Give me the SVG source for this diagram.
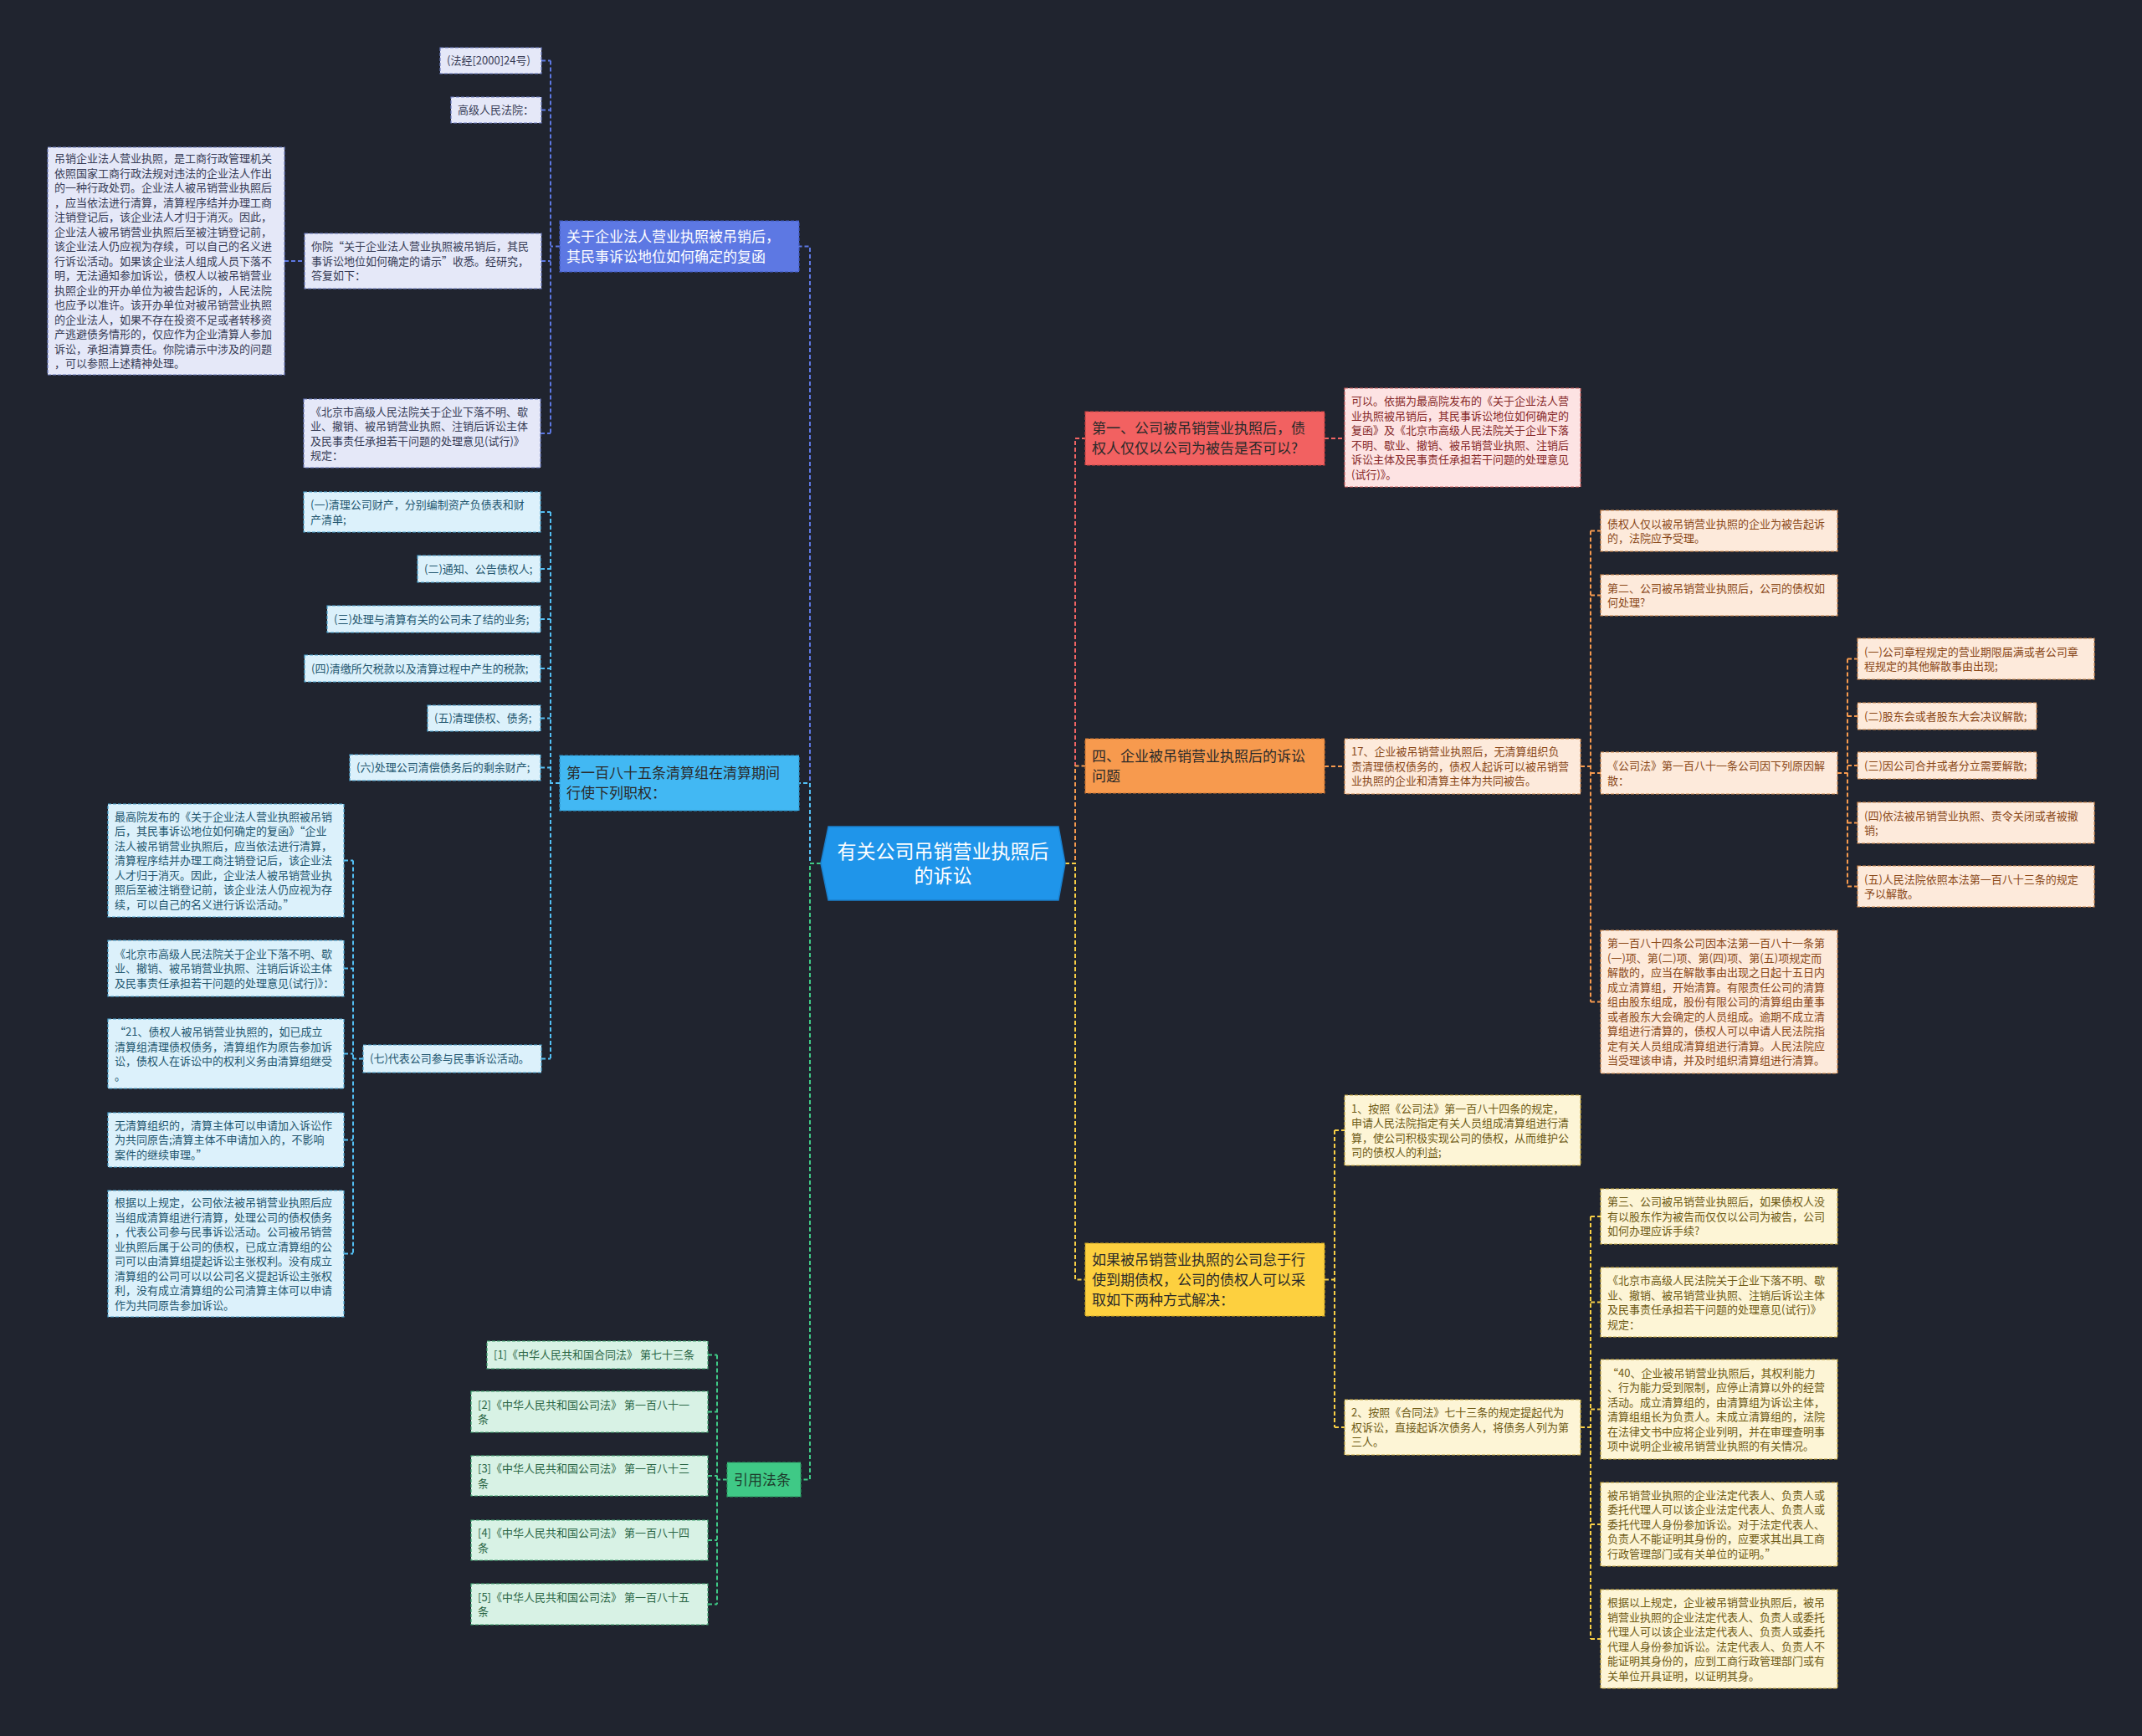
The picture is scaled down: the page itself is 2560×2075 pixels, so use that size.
<svg xmlns="http://www.w3.org/2000/svg" width="2560" height="2075" viewBox="0 0 2560 2075">
<style>
text{font-family:"Noto Sans CJK SC","Noto Sans",sans-serif}
.s{font-size:13px}
.l{font-size:17px}
.ctr{font-size:23px;fill:#ffffff}
.cn{fill:none;stroke-width:2;stroke-dasharray:5 3}
.nb{stroke-width:1.2;stroke-dasharray:4 2}
.bl{stroke:#5d78e3}.cy{stroke:#53bff4}.gr{stroke:#3fc986}.rd{stroke:#f26464}.or{stroke:#f79a4e}.ye{stroke:#f8cf45}
.bk{fill:#e5e8f8;stroke:#6d7cc4}.bt{fill:#363b55}
.ck{fill:#dcf1fb;stroke:#4aa6d3}.ct{fill:#22566f}
.gk{fill:#d8f2e5;stroke:#3fa571}.gt{fill:#2b6646}
.rk{fill:#fde3e3;stroke:#d06060}.rt{fill:#862828}
.ok{fill:#fdeadb;stroke:#d2884b}.ot{fill:#8a4818}
.yk{fill:#fdf5d6;stroke:#c8a83a}.yt{fill:#6e5a14}
.dk{fill:#2a2a2a}
</style>
<rect width="2560" height="2075" fill="#20242f"/>
<g id="connectors">
<path class="cn bl" d="M981,1032 H968 V294.5 H955"/>
<path class="cn cy" d="M981,1032 H968 V936 H955"/>
<path class="cn gr" d="M981,1032 H968 V1768.5 H957"/>
<path class="cn rd" d="M1273,1032 H1285 V524 H1297"/>
<path class="cn or" d="M1273,1032 H1285 V915.5 H1297"/>
<path class="cn ye" d="M1273,1032 H1285 V1529.5 H1297"/>
<path class="cn bl" d="M669,294.5 H658 M658,72.5 V518 M647,72.5 H658 M647,131.5 H658 M647,312 H658 M646,518 H658 M340,312 H364"/>
<path class="cn cy" d="M669,936 H658 M658,612 V1265.5 M646,612 H658 M646,680 H658 M646,740 H658 M646,799 H658 M646,858.5 H658 M646,917.5 H658 M647,1265.5 H658 M434,1265.5 H422 M422,1028.5 V1498.5 M411,1028.5 H422 M411,1157.5 H422 M411,1259.5 H422 M411,1362.5 H422 M411,1498.5 H422"/>
<path class="cn gr" d="M869,1768.5 H857 M857,1619.5 V1917.5 M846,1619.5 H857 M846,1687.5 H857 M846,1764 H857 M846,1841 H857 M846,1917.5 H857"/>
<path class="cn rd" d="M1583,524 H1607"/>
<path class="cn or" d="M1583,916 H1607 M1889,916 H1901 M1901,634.5 V1197.5 M1901,634.5 H1913 M1901,711.5 H1913 M1901,924 H1913 M1901,1197.5 H1913 M2196,924 H2208 M2208,787.5 V1059.5 M2208,787.5 H2220 M2208,856 H2220 M2208,915 H2220 M2208,983.5 H2220 M2208,1059.5 H2220"/>
<path class="cn ye" d="M1583,1529.5 H1595 M1595,1351 V1706 M1595,1351 H1607 M1595,1706 H1607 M1889,1706 H1901 M1901,1454 V1959 M1901,1454 H1913 M1901,1556.5 H1913 M1901,1684.5 H1913 M1901,1822 H1913 M1901,1959 H1913"/>
</g>
<g id="center">
<polygon points="981,1032 990,988 1265,988 1273,1032 1265,1076 990,1076" fill="#1f95ea" stroke="#1a7fcc" stroke-width="1.5"/>
<text class="ctr" x="1127" text-anchor="middle"><tspan x="1127" y="1026">有关公司吊销营业执照后</tspan><tspan x="1127" y="1055">的诉讼</tspan></text>
</g>
<g id="n-b0">
<rect class="nb" x="669" y="264" width="286" height="61" fill="#5d78e3" stroke="#3f58c0"/>
<text class="l" fill="#ffffff"><tspan x="677" y="288.6">关于企业法人营业执照被吊销后，</tspan><tspan x="677" y="312.6">其民事诉讼地位如何确定的复函</tspan></text>
</g>
<g id="n-b1">
<rect class="nb bk" x="526" y="57" width="121" height="31"/>
<text class="s bt"><tspan x="534" y="77.2">(法经[2000]24号)</tspan></text>
</g>
<g id="n-b2">
<rect class="nb bk" x="539" y="116" width="108" height="31"/>
<text class="s bt"><tspan x="547" y="136.2">高级人民法院：</tspan></text>
</g>
<g id="n-b3">
<rect class="nb bk" x="364" y="279" width="283" height="66"/>
<text class="s bt"><tspan x="372" y="299.2">你院“关于企业法人营业执照被吊销后，其民</tspan><tspan x="372" dy="17.5">事诉讼地位如何确定的请示”收悉。经研究，</tspan><tspan x="372" dy="17.5">答复如下：</tspan></text>
</g>
<g id="n-b4">
<rect class="nb bk" x="57" y="176" width="283" height="272"/>
<text class="s bt"><tspan x="65" y="194.2">吊销企业法人营业执照，是工商行政管理机关</tspan><tspan x="65" dy="17.5">依照国家工商行政法规对违法的企业法人作出</tspan><tspan x="65" dy="17.5">的一种行政处罚。企业法人被吊销营业执照后</tspan><tspan x="65" dy="17.5">，应当依法进行清算，清算程序结并办理工商</tspan><tspan x="65" dy="17.5">注销登记后，该企业法人才归于消灭。因此，</tspan><tspan x="65" dy="17.5">企业法人被吊销营业执照后至被注销登记前，</tspan><tspan x="65" dy="17.5">该企业法人仍应视为存续，可以自己的名义进</tspan><tspan x="65" dy="17.5">行诉讼活动。如果该企业法人组成人员下落不</tspan><tspan x="65" dy="17.5">明，无法通知参加诉讼，债权人以被吊销营业</tspan><tspan x="65" dy="17.5">执照企业的开办单位为被告起诉的，人民法院</tspan><tspan x="65" dy="17.5">也应予以准许。该开办单位对被吊销营业执照</tspan><tspan x="65" dy="17.5">的企业法人，如果不存在投资不足或者转移资</tspan><tspan x="65" dy="17.5">产逃避债务情形的，仅应作为企业清算人参加</tspan><tspan x="65" dy="17.5">诉讼，承担清算责任。你院请示中涉及的问题</tspan><tspan x="65" dy="17.5">，可以参照上述精神处理。</tspan></text>
</g>
<g id="n-b5">
<rect class="nb bk" x="363" y="477" width="283" height="82"/>
<text class="s bt"><tspan x="371" y="496.5">《北京市高级人民法院关于企业下落不明、歇</tspan><tspan x="371" dy="17.5">业、撤销、被吊销营业执照、注销后诉讼主体</tspan><tspan x="371" dy="17.5">及民事责任承担若干问题的处理意见(试行)》</tspan><tspan x="371" dy="17.5">规定：</tspan></text>
</g>
<g id="n-c0">
<rect class="nb" x="669" y="903" width="286" height="66" fill="#42b8f3" stroke="#2a93cc"/>
<text class="l dk"><tspan x="677" y="930.1">第一百八十五条清算组在清算期间</tspan><tspan x="677" y="954.1">行使下列职权：</tspan></text>
</g>
<g id="n-c1">
<rect class="nb ck" x="363" y="588" width="283" height="48"/>
<text class="s ct"><tspan x="371" y="608">(一)清理公司财产，分别编制资产负债表和财</tspan><tspan x="371" dy="17.5">产清单;</tspan></text>
</g>
<g id="n-c2">
<rect class="nb ck" x="499" y="664" width="147" height="32"/>
<text class="s ct"><tspan x="507" y="684.7">(二)通知、公告债权人;</tspan></text>
</g>
<g id="n-c3">
<rect class="nb ck" x="391" y="724" width="255" height="32"/>
<text class="s ct"><tspan x="399" y="744.7">(三)处理与清算有关的公司未了结的业务;</tspan></text>
</g>
<g id="n-c4">
<rect class="nb ck" x="364" y="783" width="282" height="32"/>
<text class="s ct"><tspan x="372" y="803.7">(四)清缴所欠税款以及清算过程中产生的税款;</tspan></text>
</g>
<g id="n-c5">
<rect class="nb ck" x="511" y="843" width="135" height="31"/>
<text class="s ct"><tspan x="519" y="863.2">(五)清理债权、债务;</tspan></text>
</g>
<g id="n-c6">
<rect class="nb ck" x="418" y="902" width="228" height="31"/>
<text class="s ct"><tspan x="426" y="922.2">(六)处理公司清偿债务后的剩余财产;</tspan></text>
</g>
<g id="n-c7">
<rect class="nb ck" x="434" y="1249" width="213" height="33"/>
<text class="s ct"><tspan x="442" y="1270.2">(七)代表公司参与民事诉讼活动。</tspan></text>
</g>
<g id="n-c8">
<rect class="nb ck" x="129" y="961" width="282" height="135"/>
<text class="s ct"><tspan x="137" y="980.7">最高院发布的《关于企业法人营业执照被吊销</tspan><tspan x="137" dy="17.5">后，其民事诉讼地位如何确定的复函》“企业</tspan><tspan x="137" dy="17.5">法人被吊销营业执照后，应当依法进行清算，</tspan><tspan x="137" dy="17.5">清算程序结并办理工商注销登记后，该企业法</tspan><tspan x="137" dy="17.5">人才归于消灭。因此，企业法人被吊销营业执</tspan><tspan x="137" dy="17.5">照后至被注销登记前，该企业法人仍应视为存</tspan><tspan x="137" dy="17.5">续，可以自己的名义进行诉讼活动。”</tspan></text>
</g>
<g id="n-c9">
<rect class="nb ck" x="129" y="1124" width="282" height="67"/>
<text class="s ct"><tspan x="137" y="1144.7">《北京市高级人民法院关于企业下落不明、歇</tspan><tspan x="137" dy="17.5">业、撤销、被吊销营业执照、注销后诉讼主体</tspan><tspan x="137" dy="17.5">及民事责任承担若干问题的处理意见(试行)》：</tspan></text>
</g>
<g id="n-c10">
<rect class="nb ck" x="129" y="1218" width="282" height="83"/>
<text class="s ct"><tspan x="137" y="1238"> “21、债权人被吊销营业执照的，如已成立</tspan><tspan x="137" dy="17.5">清算组清理债权债务，清算组作为原告参加诉</tspan><tspan x="137" dy="17.5">讼，债权人在诉讼中的权利义务由清算组继受</tspan><tspan x="137" dy="17.5">。</tspan></text>
</g>
<g id="n-c11">
<rect class="nb ck" x="129" y="1330" width="282" height="65"/>
<text class="s ct"><tspan x="137" y="1349.7">无清算组织的，清算主体可以申请加入诉讼作</tspan><tspan x="137" dy="17.5">为共同原告;清算主体不申请加入的，不影响</tspan><tspan x="137" dy="17.5">案件的继续审理。”</tspan></text>
</g>
<g id="n-c12">
<rect class="nb ck" x="129" y="1423" width="282" height="151"/>
<text class="s ct"><tspan x="137" y="1442">根据以上规定，公司依法被吊销营业执照后应</tspan><tspan x="137" dy="17.5">当组成清算组进行清算，处理公司的债权债务</tspan><tspan x="137" dy="17.5">，代表公司参与民事诉讼活动。公司被吊销营</tspan><tspan x="137" dy="17.5">业执照后属于公司的债权，已成立清算组的公</tspan><tspan x="137" dy="17.5">司可以由清算组提起诉讼主张权利。没有成立</tspan><tspan x="137" dy="17.5">清算组的公司可以以公司名义提起诉讼主张权</tspan><tspan x="137" dy="17.5">利，没有成立清算组的公司清算主体可以申请</tspan><tspan x="137" dy="17.5">作为共同原告参加诉讼。</tspan></text>
</g>
<g id="n-g0">
<rect class="nb" x="869" y="1748" width="88" height="41" fill="#3fc986" stroke="#2a9a62"/>
<text class="l" fill="#1d3b2c"><tspan x="877" y="1774.6">引用法条</tspan></text>
</g>
<g id="n-g1">
<rect class="nb gk" x="582" y="1603" width="264" height="33"/>
<text class="s gt"><tspan x="590" y="1624.2">[1]《中华人民共和国合同法》 第七十三条</tspan></text>
</g>
<g id="n-g2">
<rect class="nb gk" x="563" y="1663" width="283" height="49"/>
<text class="s gt"><tspan x="571" y="1683.5">[2]《中华人民共和国公司法》 第一百八十一</tspan><tspan x="571" dy="17.5">条</tspan></text>
</g>
<g id="n-g3">
<rect class="nb gk" x="563" y="1740" width="283" height="48"/>
<text class="s gt"><tspan x="571" y="1760">[3]《中华人民共和国公司法》 第一百八十三</tspan><tspan x="571" dy="17.5">条</tspan></text>
</g>
<g id="n-g4">
<rect class="nb gk" x="563" y="1817" width="283" height="48"/>
<text class="s gt"><tspan x="571" y="1837">[4]《中华人民共和国公司法》 第一百八十四</tspan><tspan x="571" dy="17.5">条</tspan></text>
</g>
<g id="n-g5">
<rect class="nb gk" x="563" y="1893" width="283" height="49"/>
<text class="s gt"><tspan x="571" y="1913.5">[5]《中华人民共和国公司法》 第一百八十五</tspan><tspan x="571" dy="17.5">条</tspan></text>
</g>
<g id="n-r0">
<rect class="nb" x="1297" y="492" width="286" height="64" fill="#f26161" stroke="#c94242"/>
<text class="l dk"><tspan x="1305" y="518.1">第一、公司被吊销营业执照后，债</tspan><tspan x="1305" y="542.1">权人仅仅以公司为被告是否可以?</tspan></text>
</g>
<g id="n-r1">
<rect class="nb rk" x="1607" y="464" width="282" height="118"/>
<text class="s rt"><tspan x="1615" y="484">可以。依据为最高院发布的《关于企业法人营</tspan><tspan x="1615" dy="17.5">业执照被吊销后，其民事诉讼地位如何确定的</tspan><tspan x="1615" dy="17.5">复函》及《北京市高级人民法院关于企业下落</tspan><tspan x="1615" dy="17.5">不明、歇业、撤销、被吊销营业执照、注销后</tspan><tspan x="1615" dy="17.5">诉讼主体及民事责任承担若干问题的处理意见</tspan><tspan x="1615" dy="17.5">(试行)》。</tspan></text>
</g>
<g id="n-o0">
<rect class="nb" x="1297" y="883" width="286" height="65" fill="#f79a4e" stroke="#cf7630"/>
<text class="l dk"><tspan x="1305" y="909.6">四、企业被吊销营业执照后的诉讼</tspan><tspan x="1305" y="933.6">问题</tspan></text>
</g>
<g id="n-o1">
<rect class="nb ok" x="1607" y="883" width="282" height="66"/>
<text class="s ot"><tspan x="1615" y="903.2">17、企业被吊销营业执照后，无清算组织负</tspan><tspan x="1615" dy="17.5">责清理债权债务的，债权人起诉可以被吊销营</tspan><tspan x="1615" dy="17.5">业执照的企业和清算主体为共同被告。</tspan></text>
</g>
<g id="n-o2">
<rect class="nb ok" x="1913" y="610" width="283" height="49"/>
<text class="s ot"><tspan x="1921" y="630.5">债权人仅以被吊销营业执照的企业为被告起诉</tspan><tspan x="1921" dy="17.5">的，法院应予受理。</tspan></text>
</g>
<g id="n-o3">
<rect class="nb ok" x="1913" y="687" width="283" height="49"/>
<text class="s ot"><tspan x="1921" y="707.5">第二、公司被吊销营业执照后，公司的债权如</tspan><tspan x="1921" dy="17.5">何处理?</tspan></text>
</g>
<g id="n-o4">
<rect class="nb ok" x="1913" y="899" width="283" height="50"/>
<text class="s ot"><tspan x="1921" y="920">《公司法》第一百八十一条公司因下列原因解</tspan><tspan x="1921" dy="17.5">散：</tspan></text>
</g>
<g id="n-o5">
<rect class="nb ok" x="2220" y="763" width="283" height="49"/>
<text class="s ot"><tspan x="2228" y="783.5">(一)公司章程规定的营业期限届满或者公司章</tspan><tspan x="2228" dy="17.5">程规定的其他解散事由出现;</tspan></text>
</g>
<g id="n-o6">
<rect class="nb ok" x="2220" y="840" width="214" height="32"/>
<text class="s ot"><tspan x="2228" y="860.7">(二)股东会或者股东大会决议解散;</tspan></text>
</g>
<g id="n-o7">
<rect class="nb ok" x="2220" y="899" width="214" height="32"/>
<text class="s ot"><tspan x="2228" y="919.7">(三)因公司合并或者分立需要解散;</tspan></text>
</g>
<g id="n-o8">
<rect class="nb ok" x="2220" y="959" width="283" height="49"/>
<text class="s ot"><tspan x="2228" y="979.5">(四)依法被吊销营业执照、责令关闭或者被撤</tspan><tspan x="2228" dy="17.5">销;</tspan></text>
</g>
<g id="n-o9">
<rect class="nb ok" x="2220" y="1035" width="283" height="49"/>
<text class="s ot"><tspan x="2228" y="1055.5">(五)人民法院依照本法第一百八十三条的规定</tspan><tspan x="2228" dy="17.5">予以解散。</tspan></text>
</g>
<g id="n-o10">
<rect class="nb ok" x="1913" y="1112" width="283" height="171"/>
<text class="s ot"><tspan x="1921" y="1132.2">第一百八十四条公司因本法第一百八十一条第</tspan><tspan x="1921" dy="17.5">(一)项、第(二)项、第(四)项、第(五)项规定而</tspan><tspan x="1921" dy="17.5">解散的，应当在解散事由出现之日起十五日内</tspan><tspan x="1921" dy="17.5">成立清算组，开始清算。有限责任公司的清算</tspan><tspan x="1921" dy="17.5">组由股东组成，股份有限公司的清算组由董事</tspan><tspan x="1921" dy="17.5">或者股东大会确定的人员组成。逾期不成立清</tspan><tspan x="1921" dy="17.5">算组进行清算的，债权人可以申请人民法院指</tspan><tspan x="1921" dy="17.5">定有关人员组成清算组进行清算。人民法院应</tspan><tspan x="1921" dy="17.5">当受理该申请，并及时组织清算组进行清算。</tspan></text>
</g>
<g id="n-y0">
<rect class="nb" x="1297" y="1486" width="286" height="87" fill="#fdd03f" stroke="#d1a820"/>
<text class="l dk"><tspan x="1305" y="1511.6">如果被吊销营业执照的公司怠于行</tspan><tspan x="1305" y="1535.6">使到期债权，公司的债权人可以采</tspan><tspan x="1305" y="1559.6">取如下两种方式解决：</tspan></text>
</g>
<g id="n-y1">
<rect class="nb yk" x="1607" y="1309" width="282" height="84"/>
<text class="s yt"><tspan x="1615" y="1329.5">1、按照《公司法》第一百八十四条的规定，</tspan><tspan x="1615" dy="17.5">申请人民法院指定有关人员组成清算组进行清</tspan><tspan x="1615" dy="17.5">算，使公司积极实现公司的债权，从而维护公</tspan><tspan x="1615" dy="17.5">司的债权人的利益;</tspan></text>
</g>
<g id="n-y2">
<rect class="nb yk" x="1607" y="1673" width="282" height="66"/>
<text class="s yt"><tspan x="1615" y="1693.2">2、按照《合同法》七十三条的规定提起代为</tspan><tspan x="1615" dy="17.5">权诉讼，直接起诉次债务人，将债务人列为第</tspan><tspan x="1615" dy="17.5">三人。</tspan></text>
</g>
<g id="n-y3">
<rect class="nb yk" x="1913" y="1421" width="283" height="66"/>
<text class="s yt"><tspan x="1921" y="1441.2">第三、公司被吊销营业执照后，如果债权人没</tspan><tspan x="1921" dy="17.5">有以股东作为被告而仅仅以公司为被告，公司</tspan><tspan x="1921" dy="17.5">如何办理应诉手续?</tspan></text>
</g>
<g id="n-y4">
<rect class="nb yk" x="1913" y="1515" width="283" height="83"/>
<text class="s yt"><tspan x="1921" y="1535">《北京市高级人民法院关于企业下落不明、歇</tspan><tspan x="1921" dy="17.5">业、撤销、被吊销营业执照、注销后诉讼主体</tspan><tspan x="1921" dy="17.5">及民事责任承担若干问题的处理意见(试行)》</tspan><tspan x="1921" dy="17.5">规定：</tspan></text>
</g>
<g id="n-y5">
<rect class="nb yk" x="1913" y="1625" width="283" height="119"/>
<text class="s yt"><tspan x="1921" y="1645.5"> “40、企业被吊销营业执照后，其权利能力</tspan><tspan x="1921" dy="17.5">、行为能力受到限制，应停止清算以外的经营</tspan><tspan x="1921" dy="17.5">活动。成立清算组的，由清算组为诉讼主体，</tspan><tspan x="1921" dy="17.5">清算组组长为负责人。未成立清算组的，法院</tspan><tspan x="1921" dy="17.5">在法律文书中应将企业列明，并在审理查明事</tspan><tspan x="1921" dy="17.5">项中说明企业被吊销营业执照的有关情况。</tspan></text>
</g>
<g id="n-y6">
<rect class="nb yk" x="1913" y="1772" width="283" height="100"/>
<text class="s yt"><tspan x="1921" y="1791.7">被吊销营业执照的企业法定代表人、负责人或</tspan><tspan x="1921" dy="17.5">委托代理人可以该企业法定代表人、负责人或</tspan><tspan x="1921" dy="17.5">委托代理人身份参加诉讼。对于法定代表人、</tspan><tspan x="1921" dy="17.5">负责人不能证明其身份的，应要求其出具工商</tspan><tspan x="1921" dy="17.5">行政管理部门或有关单位的证明。”</tspan></text>
</g>
<g id="n-y7">
<rect class="nb yk" x="1913" y="1900" width="283" height="118"/>
<text class="s yt"><tspan x="1921" y="1920">根据以上规定，企业被吊销营业执照后，被吊</tspan><tspan x="1921" dy="17.5">销营业执照的企业法定代表人、负责人或委托</tspan><tspan x="1921" dy="17.5">代理人可以该企业法定代表人、负责人或委托</tspan><tspan x="1921" dy="17.5">代理人身份参加诉讼。法定代表人、负责人不</tspan><tspan x="1921" dy="17.5">能证明其身份的，应到工商行政管理部门或有</tspan><tspan x="1921" dy="17.5">关单位开具证明，以证明其身。</tspan></text>
</g>
</svg>
